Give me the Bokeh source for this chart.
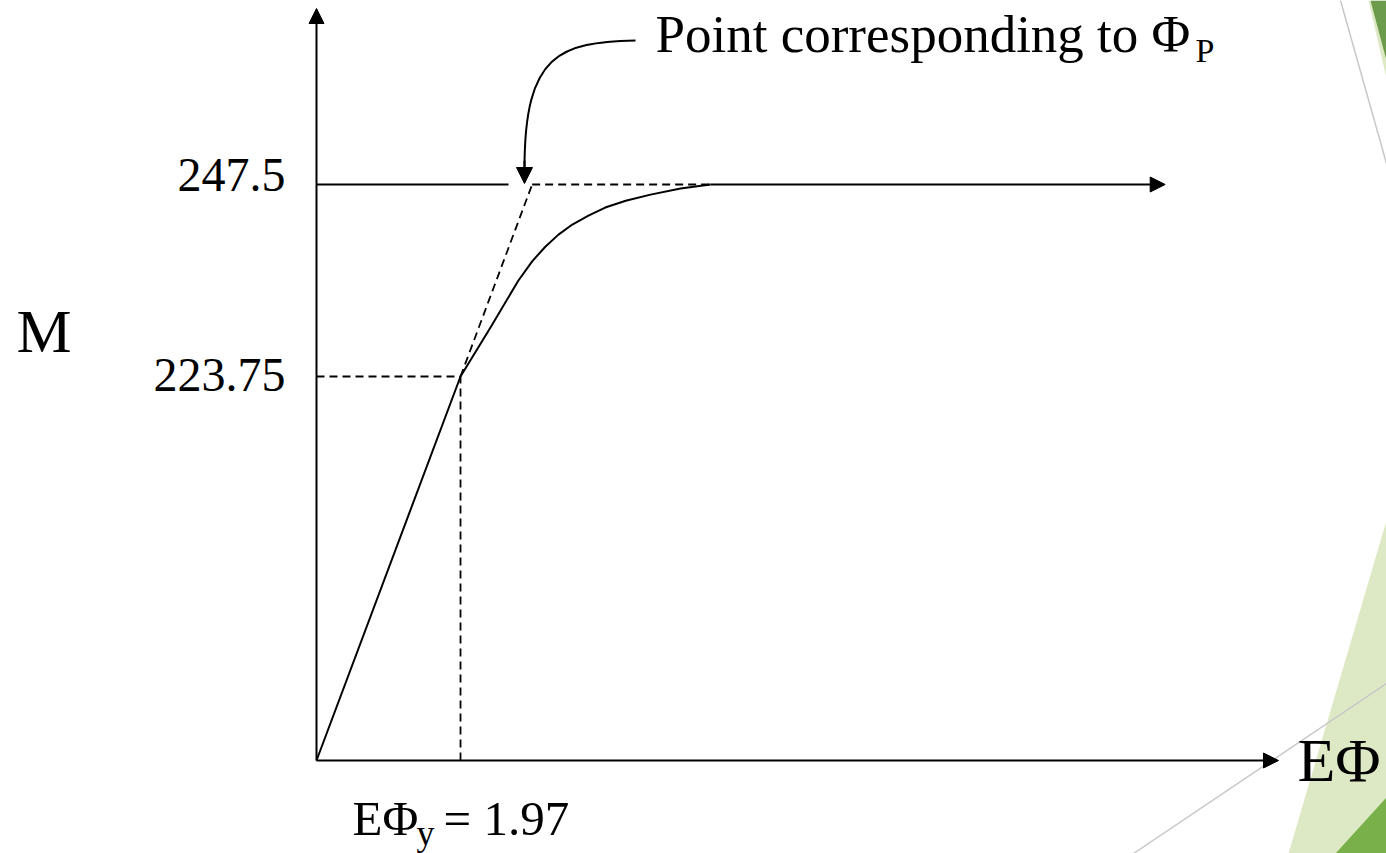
from bokeh.plotting import figure
from bokeh.models import Range1d, Arrow, NormalHead
from bokeh.core.properties import value
from bokeh.embed import file_html
from bokeh.resources import INLINE

W, H = 1386, 853

# Moment–curvature relation (EΦ on the horizontal axis, M on the vertical axis).
# The vertical axis is broken: it meets the EΦ axis at M = 176.25.
curve_phi = [0.0, 1.97, 2.38, 2.76, 2.95, 3.13, 3.31, 3.50, 3.72, 3.95, 4.23, 4.57,
             4.98, 5.39, 11.61]
curve_m = [176.25, 223.75, 229.8, 235.6, 238.0, 239.8, 241.3, 242.55, 243.65, 244.65,
           245.5, 246.25, 247.0, 247.5, 247.5]

m_ticks = [223.75, 247.5]
m_tick_labels = ["223.75", "247.5"]

phi_y = 1.97     # yield curvature
m_y = 223.75     # yield moment
m_p = 247.5      # plastic moment
phi_p = 2.95     # elastic line extended up to M_p
m_axis = 176.25  # M level where the vertical axis meets the EΦ axis

# screen layout: origin of the axes and scale of each axis (pixels per unit)
ORIGIN_X, ORIGIN_Y = 316, 760
PX_PHI = 73.1
PX_M = 8.084

x_range = Range1d(-ORIGIN_X / PX_PHI, (W - ORIGIN_X) / PX_PHI)
y_range = Range1d(m_axis - (H - ORIGIN_Y) / PX_M, m_axis + ORIGIN_Y / PX_M)

p = figure(width=W, height=H, x_range=x_range, y_range=y_range,
           x_axis_location=None, y_axis_location=None,
           toolbar_location=None, output_backend="svg", min_border=0,
           outline_line_color=None, background_fill_color="white",
           border_fill_color="white")
p.grid.visible = False

# pixel space for the slide decoration and free annotations
p.extra_x_ranges = {"px": Range1d(0, W)}
p.extra_y_ranges = {"px": Range1d(H, 0)}
PX = dict(x_range_name="px", y_range_name="px")

# --- slide decoration (green facets and thin grey strokes) ---
p.patch([1368, 1386, 1386], [0, 0, 78], fill_color="#dde9c4", line_color=None, **PX)
p.patch([1370, 1386, 1386], [0, 0, 60], fill_color="#6b9b4b", line_color=None, **PX)
p.patch([1386, 1288, 1386], [520, 853, 853], fill_color="#dde9c4", line_color=None, **PX)
p.patch([1386, 1335, 1386], [797, 853, 853], fill_color="#79b04a", line_color=None, **PX)
p.line([1340, 1386], [0, 163], line_color="#c8c8c8", line_width=1.5, **PX)
p.line([1133, 1386], [853, 683], line_color="#c8c8c8", line_width=1.5, **PX)

FONT = value("Liberation Serif")
HEAD = dict(size=15, fill_color="black", line_color="black")

# --- axes with arrow heads ---
phi_axis_end = (1278 - ORIGIN_X) / PX_PHI
m_axis_end = m_axis + (ORIGIN_Y - 8) / PX_M
p.add_layout(Arrow(end=NormalHead(**HEAD), x_start=0, y_start=m_axis,
                   x_end=phi_axis_end, y_end=m_axis, line_width=2, line_color="black"))
p.add_layout(Arrow(end=NormalHead(**HEAD), x_start=0, y_start=m_axis,
                   x_end=0, y_end=m_axis_end, line_width=2, line_color="black"))

# --- guide lines ---
DASH = "8 5"
GUIDE = dict(line_color="black", line_width=1.8, line_dash=DASH)
p.line([0, phi_y], [m_y, m_y], **GUIDE)
p.line([phi_y, phi_y], [m_axis, m_y], **GUIDE)
p.line([phi_y, phi_p], [m_y, m_p], **GUIDE)
p.line([phi_p, curve_phi[-2]], [m_p, m_p], **GUIDE)
# solid level line of M_p from the vertical axis
p.line([0, (508 - ORIGIN_X) / PX_PHI], [m_p, m_p], line_color="black", line_width=2)

# --- the M–EΦ curve, ending in an arrow ---
p.line(curve_phi[:-1], curve_m[:-1], line_color="black", line_width=2,
       line_join="round")
p.add_layout(Arrow(end=NormalHead(**HEAD), x_start=curve_phi[-2], y_start=curve_m[-2],
                   x_end=curve_phi[-1], y_end=curve_m[-1],
                   line_width=2, line_color="black"))

# --- tick labels on the M axis ---
p.text(x=[0, 0], y=m_ticks, text=m_tick_labels, x_offset=-31, y_offset=[-2, -10],
       text_align="right", text_baseline="alphabetic", text_font=FONT,
       text_font_size=value("48px"), text_color="black")

# --- axis titles ---
p.text(x=[16], y=[330], text=["M"], text_align="left", text_baseline="alphabetic",
       text_font=FONT, text_font_size=value("62px"), text_color="black", **PX)
p.text(x=[1297], y=[759], text=["EΦ"], text_align="left", text_baseline="alphabetic",
       text_font=FONT, text_font_size=value("62px"), text_color="black", **PX)

# --- yield curvature label under the EΦ axis ---
p.text(x=[phi_y], y=[m_axis], text=["EΦ"], x_offset=-108, y_offset=58,
       text_align="left", text_baseline="alphabetic", text_font=FONT,
       text_font_size=value("49px"), text_color="black")
p.text(x=[phi_y], y=[m_axis], text=["y"], x_offset=-44, y_offset=72,
       text_align="left", text_baseline="alphabetic", text_font=FONT,
       text_font_size=value("36px"), text_color="black")
p.text(x=[phi_y], y=[m_axis], text=[f"= {phi_y}"], x_offset=-17, y_offset=58,
       text_align="left", text_baseline="alphabetic", text_font=FONT,
       text_font_size=value("49px"), text_color="black")

# --- annotation pointing at Φ_P ---
p.text(x=[655], y=[33], text=["Point corresponding to Φ"], text_align="left",
       text_baseline="alphabetic", text_font=FONT, text_font_size=value("53px"),
       text_color="black", **PX)
p.text(x=[1195], y=[50], text=["P"], text_align="left", text_baseline="alphabetic",
       text_font=FONT, text_font_size=value("34px"), text_color="black", **PX)
p.bezier(x0=[635], y0=[40], x1=[524], y1=[168], cx0=[560], cy0=[42],
         cx1=[524], cy1=[52], line_color="black", line_width=2, **PX)
p.add_layout(Arrow(end=NormalHead(size=16, fill_color="black", line_color="black"),
                   x_start=524, y_start=160, x_end=524, y_end=183,
                   line_width=2, line_color="black", **PX))

open("out.html", "w").write(file_html(p, INLINE))
